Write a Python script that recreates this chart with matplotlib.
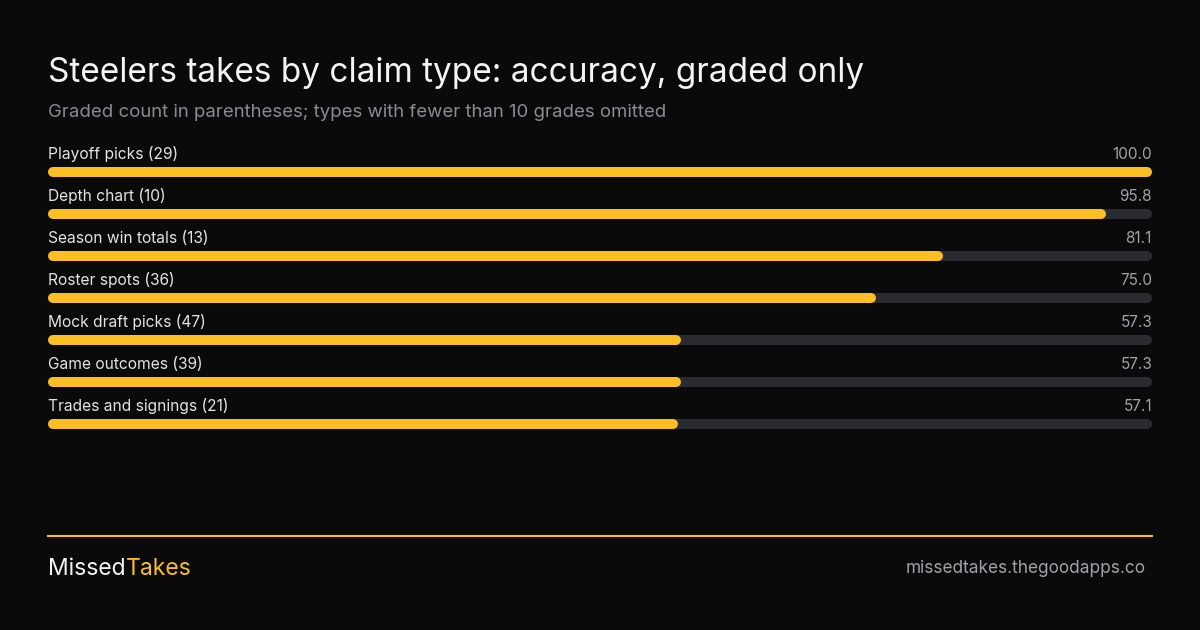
import matplotlib
matplotlib.use('Agg')
import matplotlib.pyplot as plt

plt.rcParams['font.family'] = ['Inter', 'DejaVu Sans']

categories = ["Playoff picks", "Depth chart", "Season win totals", "Roster spots",
              "Mock draft picks", "Game outcomes", "Trades and signings"]
counts = [29, 10, 13, 36, 47, 39, 21]
accuracy = [100.0, 95.8, 81.1, 75.0, 57.3, 57.3, 57.1]

BG = "#0a0a0a"
YELLOW = "#fbbf24"
TRACK = "#2a2a31"
W, H = 1200, 630

fig = plt.figure(figsize=(W / 100, H / 100), dpi=100, facecolor=BG)

# bar area: x px 48..1152, row i centred at y = 172 + 42*i
top_px, bot_px = 130, 445
ax = fig.add_axes([48 / W, 1 - bot_px / H, 1104 / W, (bot_px - top_px) / H])
ax.set_facecolor(BG)
ax.set_xlim(0, 100)
ax.set_ylim((bot_px - 172) / 42, (top_px - 172) / 42)
ax.axis('off')

lw_px = 10
lw_pt = lw_px * 72 / 100
cap = (lw_px / 2) / 1104 * 100  # round cap overhang in data units

for i, (cat, n, v) in enumerate(zip(categories, counts, accuracy)):
    ax.plot([cap, 100 - cap], [i, i], color=TRACK, lw=lw_pt,
            solid_capstyle='round', zorder=1)
    ax.plot([cap, v - cap], [i, i], color=YELLOW, lw=lw_pt,
            solid_capstyle='round', zorder=2)
    ax.text(0, i - 0.3, f"{cat} ({n})", color="#e4e4e7", fontsize=11.2,
            ha='left', va='baseline')
    ax.text(100, i - 0.3, f"{v:.1f}", color="#a1a1aa", fontsize=11,
            ha='right', va='baseline')

# titles
fig.text(48 / W, 1 - 82 / H, "Steelers takes by claim type: accuracy, graded only",
         color="#f4f4f5", fontsize=24, ha='left', va='baseline')
fig.text(48 / W, 1 - 117 / H,
         "Graded count in parentheses; types with fewer than 10 grades omitted",
         color="#8a8a93", fontsize=13.4, ha='left', va='baseline')

# footer
fig.add_artist(plt.Line2D([48 / W, 1152 / W], [1 - 536 / H, 1 - 536 / H],
                          color=YELLOW, lw=1.5))
t1 = fig.text(48 / W, 1 - 575 / H, "Missed", color="#f4f4f5", fontsize=16.5,
              ha='left', va='baseline')
fig.canvas.draw()
bb = t1.get_window_extent()
fig.text(bb.x1 / W, 1 - 575 / H, "Takes", color=YELLOW, fontsize=16.5,
         ha='left', va='baseline')
fig.text(1146 / W, 1 - 573 / H, "missedtakes.thegoodapps.co", color="#a1a1aa",
         fontsize=12.4, ha='right', va='baseline')

fig.savefig("out.png", dpi=100, facecolor=BG)
